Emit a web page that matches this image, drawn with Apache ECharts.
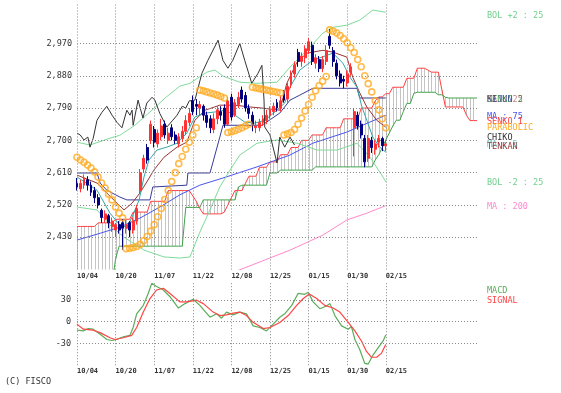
<!DOCTYPE html>
<html><head><meta charset="utf-8">
<script src="https://cdn.jsdelivr.net/npm/echarts@6/dist/echarts.min.js"></script>
<style>html,body{margin:0;padding:0;background:#fff}#c{width:561px;height:393px}</style>
</head><body><div id="c"></div>
<script>
// ---- tick labels ----
const dateLabels = ['10/04','10/20','11/07','11/22','12/08','12/25','01/15','01/30','02/15']; // every 11 bars
const priceTicks = [2430,2520,2610,2700,2790,2880,2970];
const macdTicks = [-30,0,30];

// ---- candles [open, close, low, high] per trading day ----
const candles = [
[2580,2570,2560,2595],[2565,2580,2555,2590],[2575,2595,2565,2605],[2590,2575,2560,2600],[2575,2555,2545,2585],
[2560,2540,2525,2570],[2540,2520,2510,2550],[2505,2485,2470,2510],[2480,2495,2470,2505],[2490,2470,2455,2495],
[2460,2475,2445,2485],[2450,2465,2430,2470],[2465,2450,2440,2475],[2470,2455,2395,2480],[2455,2465,2440,2480],
[2470,2450,2430,2475],[2450,2475,2440,2485],[2475,2510,2465,2520],[2560,2610,2550,2620],[2620,2650,2610,2660],
[2680,2645,2635,2690],[2700,2745,2690,2755],[2730,2695,2680,2740],[2690,2720,2680,2730],[2710,2740,2700,2760],
[2745,2715,2705,2755],[2700,2720,2690,2735],[2735,2710,2700,2745],[2715,2700,2690,2725],[2690,2710,2680,2720],
[2705,2725,2695,2740],[2725,2755,2715,2770],[2750,2775,2740,2790],[2810,2780,2770,2825],[2800,2795,2770,2815],
[2790,2800,2770,2810],[2795,2770,2755,2800],[2770,2750,2735,2780],[2760,2735,2720,2770],[2730,2760,2720,2775],
[2760,2785,2745,2795],[2780,2770,2755,2795],[2790,2745,2735,2800],[2745,2810,2740,2820],[2820,2765,2755,2830],
[2770,2805,2765,2815],[2800,2820,2790,2835],[2840,2815,2805,2850],[2825,2790,2780,2835],[2790,2775,2760,2800],
[2770,2745,2725,2780],[2735,2740,2720,2755],[2735,2750,2725,2760],[2750,2760,2740,2770],[2755,2770,2745,2785],
[2770,2785,2760,2795],[2780,2795,2770,2805],[2805,2790,2780,2815],[2790,2810,2780,2825],[2830,2812,2805,2840],
[2815,2850,2805,2860],[2855,2885,2845,2895],[2885,2910,2875,2920],[2945,2920,2905,2955],[2920,2935,2905,2945],
[2930,2955,2915,2965],[2950,2975,2940,2985],[2965,2920,2910,2975],[2915,2930,2900,2940],[2925,2900,2890,2935],
[2900,2925,2890,2935],[2920,2950,2910,2965],[2990,2965,2955,3010],[2950,2920,2905,2960],[2915,2880,2870,2925],
[2885,2860,2850,2895],[2870,2865,2845,2880],[2860,2885,2850,2895],[2890,2905,2880,2915],[2735,2780,2655,2790],
[2770,2740,2730,2780],[2745,2715,2705,2755],[2705,2640,2625,2715],[2650,2705,2640,2715],[2700,2680,2665,2710],
[2675,2690,2660,2700],[2695,2705,2680,2715],[2705,2685,2670,2710],[2685,2690,2670,2700]
];

// ---- Ichimoku cloud spans (per bar, incl. 26 bars ahead) ----
const senkou1 = [
2460,2460,2460,2460,2460,2460,2470,2470,2470,2470,2470,2480,2480,2480,2480,2480,
2500,2500,2500,2500,2500,2530,2530,2530,2530,2530,2560,2560,2560,2560,2560,2560,2560,
2545,2530,2510,2495,2495,2495,2495,2495,2495,2500,2520,2540,2560,2560,2560,2580,
2600,2600,2600,2625,2625,2625,2640,2640,2640,2660,2660,2660,2680,2680,2680,2700,2700,2700,
2715,2715,2715,2715,2735,2735,2735,2735,2735,2760,2760,2760,2760,2760,2790,2790,2790,2790,
2810,2821,2821,2830,2830,2848,2848,2848,2848,2873,2873,2873,2901,2901,2901,2896,
2890,2890,2890,2840,2793,2793,2793,2793,2793,2793,2770,2755,2755,2755
];
const senkou2 = [
2300,2300,2300,2300,2300,2300,2300,2300,2300,2300,2300,2370,
2405,2405,2405,2405,2405,2405,2405,2405,2405,2405,2405,2405,2405,2405,2405,2405,2405,2405,2405,
2513,2513,2513,2513,2513,2534,2534,2534,2534,2534,2534,2534,2534,2534,2534,2570,
2575,2575,2575,2575,2575,2575,2575,2575,2609,2609,2609,
2617,2617,2617,2617,2617,2617,2617,2617,2617,2617,
2626,2626,2626,2626,2626,2626,2626,2626,2626,2626,2626,2626,2626,2626,2626,2626,2626,
2645,2660,2680,2701,2720,2740,2756,2756,2780,2803,2803,2831,
2834,2834,2834,2834,2834,2834,2827,2827,2820,
2818,2818,2818,2818,2818,2818,2818,2818,2818
];

// ---- lines as [bar, value] ----
const tenkan = [[0,2603],[5.7,2581],[8.5,2553],[11.4,2525],[13.4,2506],[15.7,2525],[17.9,2553],[19.9,2584],[21.9,2617],[24.8,2653],[28.5,2681],[31.3,2695],[33.6,2756],[36.5,2784],[40.7,2798],[45,2798],[49.3,2793],[52.7,2790],[57.8,2784],[59.8,2859],[62.7,2918],[65.5,2943],[70.1,2951],[72.9,2946],[76.9,2932],[78.6,2876],[80.6,2832],[82.6,2793],[85.4,2756],[88,2737]];
const kijun = [[0,2609],[5.7,2609],[6.6,2581],[8.5,2561],[12.2,2542],[14.2,2534],[20.8,2534],[21.6,2570],[31.3,2575],[31.6,2609],[37.9,2609],[38.7,2637],[40.7,2709],[41.6,2742],[52.7,2742],[57.8,2776],[60.7,2812],[63.5,2826],[67.2,2845],[79.8,2845],[80.6,2818],[88,2818]];
const ma25 = [[0,2598],[5.7,2561],[9.4,2497],[12.2,2464],[14.2,2458],[15.7,2486],[17.7,2534],[19.1,2598],[20.5,2645],[22.8,2673],[25.6,2681],[28.5,2692],[31.3,2720],[33.6,2765],[36.5,2776],[39.3,2779],[42.2,2784],[45,2770],[47.8,2751],[50.7,2748],[53.5,2756],[56.4,2779],[59.2,2804],[60.7,2848],[63.5,2896],[67.2,2923],[71.2,2937],[72.9,2943],[75.8,2915],[77.8,2876],[79.8,2848],[81.2,2793],[82.6,2756],[84.3,2709],[86.3,2681],[88,2667]];
const chiko = [[0,2720],[0.9,2715],[2,2701],[3.1,2709],[3.7,2681],[4.6,2705],[5.7,2756],[7.1,2778],[8.5,2795],[10,2770],[11.4,2750],[12.8,2735],[14.2,2784],[15.1,2770],[15.7,2784],[16,2742],[17.4,2812],[18.8,2762],[19.9,2804],[21.4,2820],[22.2,2812],[23.6,2775],[25.6,2737],[27.3,2756],[28.5,2770],[30,2795],[31,2790],[32,2810],[33.6,2812],[35.6,2887],[37.3,2923],[40.2,2979],[41.6,2923],[43,2901],[44.4,2923],[46.4,2970],[47.8,2923],[49.8,2859],[51.6,2887],[52.7,2909],[53.3,2812],[53.5,2737],[55,2715],[57,2637],[57.8,2709],[59.2,2681],[60.7,2709],[62,2687]];
const bolUpper = [[0,2695],[3.7,2687],[9.4,2706],[12.2,2714],[16.5,2742],[20.8,2779],[25.1,2818],[29.3,2851],[32.2,2859],[37,2890],[39.3,2896],[41.6,2879],[46.4,2862],[51.3,2859],[57,2862],[60.7,2904],[65.5,2951],[70.1,2999],[72.9,3015],[76.9,3021],[80.6,3035],[84.3,3063],[88,3057]];
const bolLower = [[0,2514],[5.7,2506],[9.4,2464],[13.4,2430],[19.1,2394],[24.8,2375],[29.3,2372],[32.2,2375],[35,2444],[37.9,2506],[40.7,2570],[43.6,2617],[46.4,2659],[51.3,2692],[57,2701],[62.7,2692],[68.4,2673],[74.1,2673],[79.8,2692],[83.5,2653],[87.2,2598],[88,2584]];
const ma75 = [[0,2422],[6.6,2441],[12.2,2458],[17.9,2483],[23.6,2514],[29.3,2548],[35,2575],[41.6,2595],[51.3,2626],[60.7,2659],[67.2,2692],[76.9,2723],[88,2770]];
const ma200 = [[44,2330],[51.3,2358],[60.7,2394],[70.1,2436],[76.9,2478],[82.6,2497],[88,2518]];
const parabolic = [
2653,2645,2639,2631,2623,2612,2598,2581,2567,2550,2534,2514,2497,2484,
2398,2399,2401,2404,2410,2420,2432,2447,2465,2487,2510,2535,2560,2585,2610,2635,2655,2675,2695,2715,2735,
2840,2838,2835,2832,2829,2826,2822,2818,
2722,2724,2727,2731,2735,2740,2745,
2848,2846,2844,2842,2840,2838,2836,2834,2832,
2715,2718,2722,2730,2745,2762,2782,2800,2820,2838,2852,2865,2878,
3008,3004,2999,2992,2983,2972,2958,2945,2925,2905,2880,2858,2835,2810,2785,2760,2735
];

// ---- MACD panel ----
const macd = [[0,-11.7],[1.8,-12.7],[3.2,-9.4],[4.6,-10.3],[6.6,-17.4],[8.5,-24.5],[9.9,-25.9],[11.3,-24.5],[13.2,-20.7],[15.1,-18.8],[16,-8],[17,10.9],[18.9,22.6],[20.3,39],[21.3,53],[22.7,48.6],[24.6,43.8],[26.5,34.5],[28.9,18.9],[30.8,25],[33.1,31],[35,22.6],[37.9,6.2],[39.8,10.9],[41.2,4.8],[42.6,13.3],[44.5,9.5],[46.4,13.3],[48.3,10.9],[50.2,-5.7],[52.1,-8],[54,-12.7],[55.9,-3.3],[57.8,6.2],[59.2,10.9],[61.2,22.6],[63,39],[64.9,37.8],[65.9,40.6],[67.3,27.4],[69.2,18],[71.1,21.8],[72.1,25],[73.5,8.5],[75.4,-5.7],[77.3,-10.3],[78.2,-6.5],[79.2,-24.5],[80.6,-38.6],[82,-57.4],[83,-58.4],[84.4,-45.7],[85.8,-36.2],[87.2,-26.9],[88,-18.4]];
const signal = [[0,-3.3],[1.8,-10.3],[4.6,-11.7],[6.6,-15],[9.4,-22.1],[10.8,-24.5],[13.2,-22.1],[15.6,-18.8],[17,-8],[18.9,13.3],[20.8,32],[22.7,43.8],[24.6,46.2],[26.5,39],[29.3,27.4],[31.2,27.4],[34.1,29.7],[36,25],[38.8,13.3],[40.7,8.5],[42.6,9.5],[44.5,11.9],[46.4,13.3],[48.3,8.5],[50.2,-0.8],[53.1,-9.4],[55,-8],[57.8,-1],[60.2,8.5],[62.6,22.6],[64.5,32],[66.2,38.2],[68.3,32],[70.6,22.6],[73,18.9],[74.9,13.3],[77.3,-1],[79.2,-12.7],[81.1,-26.9],[82.5,-41],[83.9,-49],[85.4,-49],[86.8,-43.3],[88,-31.5]];

// ---------------------------------------------------------------
const FONT = '"DejaVu Sans Mono", monospace';
const gridDot = {color:'#8a8a8a', width:1, type:[1,2]};
const vIdx = dateLabels.map((_, k) => k * 11);

function lineSeries(data, color, extra) {
  return Object.assign({type:'line', data, showSymbol:false, symbol:'none', xAxisIndex:0, yAxisIndex:0,
    lineStyle:{color, width:1}, silent:true, z:3}, extra || {});
}

const chart = echarts.init(document.getElementById('c'));
const dateFmt = v => { const k = v / 11; return (Number.isInteger(k) && k < dateLabels.length) ? dateLabels[k] : ''; };

chart.setOption({
  animation:false,
  backgroundColor:'#ffffff',
  grid:[
    {left:77, top:4, width:400, height:265.5},
    {left:77, top:282.6, width:400, height:82.6}
  ],
  xAxis:[
    {type:'value', gridIndex:0, min:0, max:114, interval:11, axisLine:{show:false}, axisTick:{show:false}, splitLine:{show:false},
      axisLabel:{formatter:dateFmt, align:'left', margin:3, fontSize:7, fontWeight:'bold', fontFamily:FONT, color:'#333', showMaxLabel:false}},
    {type:'value', gridIndex:1, min:0, max:114, interval:11, axisLine:{show:false}, axisTick:{show:false}, splitLine:{show:false},
      axisLabel:{formatter:dateFmt, align:'left', margin:2, fontSize:7, fontWeight:'bold', fontFamily:FONT, color:'#333', showMaxLabel:false}}
  ],
  yAxis:[
    {type:'value', gridIndex:0, min:2340, max:3080, interval:90, axisLine:{show:false}, axisTick:{show:false}, splitLine:{show:false},
      axisLabel:{formatter:v => priceTicks.includes(v) ? v.toLocaleString('en-US') : '', margin:5, fontSize:8.5, fontFamily:FONT, color:'#333'}},
    {type:'value', gridIndex:1, min:-60, max:54, interval:30, axisLine:{show:false}, axisTick:{show:false}, splitLine:{show:false},
      axisLabel:{formatter:v => macdTicks.includes(v) ? String(v) : '', margin:6, fontSize:8.5, fontFamily:FONT, color:'#333'}}
  ],
  series:[
    {type:'custom', xAxisIndex:0, yAxisIndex:0, clip:true, silent:true, z:1,
      data: senkou1.map((v, i) => [i, v, senkou2[i]]),
      encode:{x:0, y:[1,2]},
      renderItem:(params, api) => {
        const a = api.coord([api.value(0), api.value(1)]);
        const b = api.coord([api.value(0), api.value(2)]);
        const x = Math.round(a[0]) + 0.5;
        return {type:'line', shape:{x1:x, y1:a[1], x2:x, y2:b[1]}, style:{stroke:'#c4c4c4', lineWidth:1}};
      },
      markLine:{silent:true, symbol:'none', label:{show:false}, lineStyle:gridDot,
        data: priceTicks.map(v => ({yAxis:v})).concat(vIdx.map(v => ({xAxis:v})))}
    },
    lineSeries(senkou1.map((v, i) => [i, v]), '#ff4040'),
    lineSeries(senkou2.map((v, i) => [i, v]), '#3fa34a'),
    lineSeries(ma200, '#ff88cc'),
    lineSeries(ma75, '#4a55ee'),
    lineSeries(bolUpper, '#7edb9a'),
    lineSeries(bolLower, '#7edb9a'),
    lineSeries(kijun, '#3a3a99'),
    lineSeries(tenkan, '#993333'),
    lineSeries(ma25, '#33a6a6'),
    lineSeries(chiko, '#333333'),
    {type:'candlestick', xAxisIndex:0, yAxisIndex:0, silent:true, z:5, barWidth:2.4,
      data: candles.map((c, i) => [i, c[0], c[1], c[2], c[3]]),
      encode:{x:0, y:[1,2,3,4]},
      itemStyle:{color:'#ff3333', color0:'#000080', borderColor:'#ff3333', borderColor0:'#000080', borderWidth:1}},
    {type:'scatter', xAxisIndex:0, yAxisIndex:0, silent:true, z:6, symbol:'circle', symbolSize:6,
      data: parabolic.map((v, i) => [i, v]),
      itemStyle:{color:'rgba(255,255,255,0)', borderColor:'#ffaa22', borderWidth:1.6}},
    {type:'line', xAxisIndex:1, yAxisIndex:1, data:macd, symbol:'none', silent:true, lineStyle:{color:'#5aad5a', width:1.2}, z:3,
      markLine:{silent:true, symbol:'none', label:{show:false}, lineStyle:gridDot,
        data: macdTicks.map(v => ({yAxis:v})).concat(vIdx.map(v => ({xAxis:v})))}},
    {type:'line', xAxisIndex:1, yAxisIndex:1, data:signal, symbol:'none', silent:true, lineStyle:{color:'#ff4444', width:1.2}, z:3}
  ],
  graphic:[
    {type:'text', x:487, y:15.5, style:{text:'BOL +2 : 25', fill:'#6fd08c', font:'8.5px ' + FONT, verticalAlign:'middle'}},
    {type:'text', x:487, y:99.5, style:{text:'SENKO 2', fill:'#3fa34a', font:'8.5px ' + FONT, verticalAlign:'middle'}},
    {type:'text', x:487, y:99.5, style:{text:'KIJUN', fill:'#3a3a99', font:'8.5px ' + FONT, verticalAlign:'middle', opacity:0.8}},
    {type:'text', x:487, y:99.5, style:{text:'MA : 25', fill:'#993333', font:'8.5px ' + FONT, verticalAlign:'middle', opacity:0.6}},
    {type:'text', x:487, y:116.5, style:{text:'MA : 75', fill:'#4a55ee', font:'8.5px ' + FONT, verticalAlign:'middle'}},
    {type:'text', x:487, y:122, style:{text:'SENKO 1', fill:'#ff4040', font:'8.5px ' + FONT, verticalAlign:'middle'}},
    {type:'text', x:487, y:127.5, style:{text:'PARABOLIC', fill:'#ffaa22', font:'8.5px ' + FONT, verticalAlign:'middle'}},
    {type:'text', x:487, y:138, style:{text:'CHIKO', fill:'#333333', font:'8.5px ' + FONT, verticalAlign:'middle'}},
    {type:'text', x:487, y:146.5, style:{text:'TENKAN', fill:'#993333', font:'8.5px ' + FONT, verticalAlign:'middle'}},
    {type:'text', x:487, y:144.5, style:{text:'MA : 5', fill:'#33a6a6', font:'8.5px ' + FONT, verticalAlign:'middle', opacity:0.7}},
    {type:'text', x:487, y:183, style:{text:'BOL -2 : 25', fill:'#6fd08c', font:'8.5px ' + FONT, verticalAlign:'middle'}},
    {type:'text', x:487, y:207, style:{text:'MA : 200', fill:'#ff88cc', font:'8.5px ' + FONT, verticalAlign:'middle'}},
    {type:'text', x:487, y:291, style:{text:'MACD', fill:'#5aad5a', font:'8.5px ' + FONT, verticalAlign:'middle'}},
    {type:'text', x:487, y:301, style:{text:'SIGNAL', fill:'#ff4444', font:'8.5px ' + FONT, verticalAlign:'middle'}},
    {type:'text', x:5, y:382, style:{text:'(C) FISCO', fill:'#333333', font:'8.5px ' + FONT, verticalAlign:'middle'}}
  ]
});
</script></body></html>
